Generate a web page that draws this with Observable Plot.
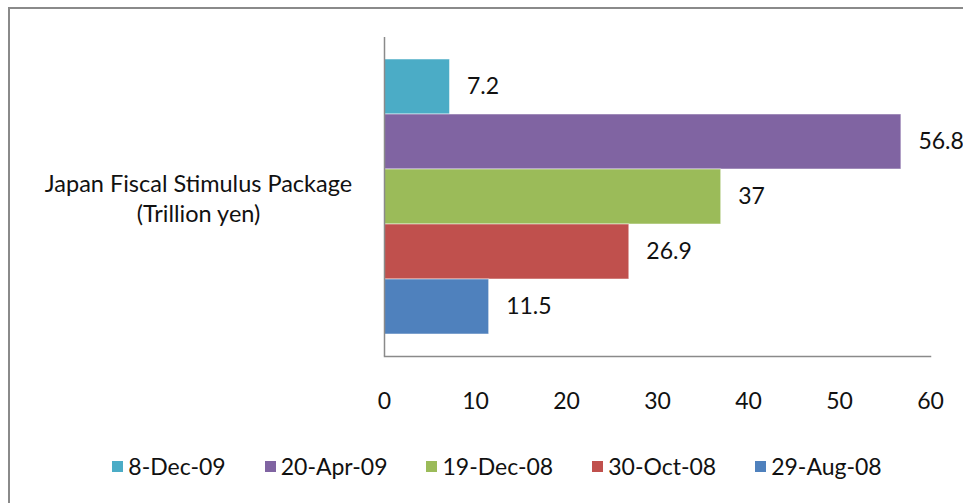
<!DOCTYPE html>
<html>
<head>
<meta charset="utf-8">
<script src="https://cdn.jsdelivr.net/npm/d3@7"></script>
<script src="https://cdn.jsdelivr.net/npm/@observablehq/plot@0.6"></script>
<style>
  body { margin: 0; background: #fff; font-family: Lato, "Open Sans", sans-serif; }
  #wrap { position: relative; width: 963px; height: 503px; overflow: hidden; }
  #border { position: absolute; left: 8px; top: 7px; width: 1000px; height: 600px;
            border-left: 2px solid #8a8a8a; border-top: 2px solid #8a8a8a; }
  #chart { position: absolute; left: 0; top: 0; }
  #legend { position: absolute; left: 0; top: 452px; width: 994px; display: flex;
            justify-content: center; gap: 39px; font-size: 23px; color: #111; }
  #legend .item { display: flex; align-items: center; }
  #legend .sw { width: 11px; height: 11px; margin-right: 5px; }
</style>
</head>
<body>
<div id="wrap">
  <div id="border"></div>
  <div id="chart"></div>
  <div id="legend"></div>
</div>
<script>
const category = 'Japan Fiscal Stimulus Package\n(Trillion yen)'
const series = ['8-Dec-09', '20-Apr-09', '19-Dec-08', '30-Oct-08', '29-Aug-08']
const values = [7.2, 56.8, 37, 26.9, 11.5]
const colors = ['#4BACC6', '#8064A2', '#9BBB59', '#C0504D', '#4F81BD']
const xTicks = [0, 10, 20, 30, 40, 50, 60]

const data = series.map((s, i) => ({ series: s, value: values[i], category }))

const chart = Plot.plot({
  width: 963,
  height: 430,
  marginLeft: 384,
  marginRight: 33,
  marginTop: 37,
  marginBottom: 74,
  style: { fontFamily: 'Lato, "Open Sans", sans-serif', fontSize: '23px', color: '#111', background: 'transparent' },
  x: { domain: [0, 60], ticks: xTicks, tickSize: 0, tickPadding: 36, label: null },
  y: { domain: series, paddingInner: 0, paddingOuter: 0.37, axis: null },
  color: { domain: series, range: colors },
  marks: [
    Plot.barX(data, { x: 'value', y: 'series', fill: 'series', stroke: '#ffffff', strokeOpacity: 0.5, strokeWidth: 1 }),
    Plot.text(data, { x: 'value', y: 'series', text: d => String(d.value), textAnchor: 'start', dx: 17, fill: '#111' }),
    Plot.text([category], { text: d => d, frameAnchor: 'middle', dx: -186 - (930 - 384) / 2, lineHeight: 1.3, textAnchor: 'middle', fill: '#111', fontSize: 23.5 }),
    Plot.ruleX([0], { stroke: '#8a8a8a', strokeWidth: 1.5 }),
    Plot.frame({ anchor: 'bottom', stroke: '#8a8a8a', strokeWidth: 1.5 })
  ]
})

d3.select('#chart').append(() => chart)

const legend = d3.select('#legend')
series.forEach((s, i) => {
  const item = legend.append('div').attr('class', 'item')
  item.append('div').attr('class', 'sw').style('background', colors[i])
  item.append('span').text(s)
})
</script>
</body>
</html>
